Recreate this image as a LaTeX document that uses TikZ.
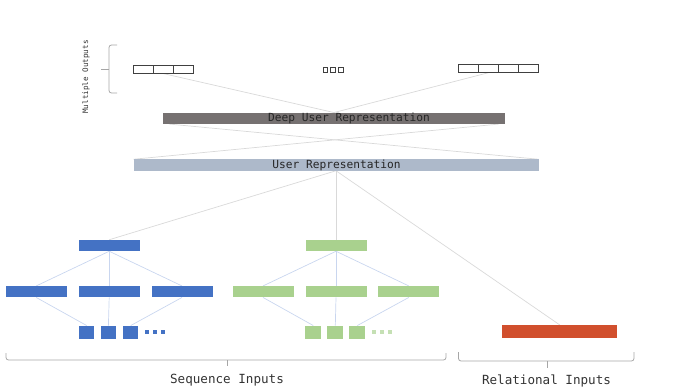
\documentclass[tikz,border=0pt]{standalone}
\usepackage{fontspec}
\newfontfamily\mono{DejaVu Sans Mono}
\usetikzlibrary{backgrounds}
\definecolor{cblue}{HTML}{4472C4}
\definecolor{cgreen}{HTML}{A9D18E}
\definecolor{cgreenl}{HTML}{C5E0B4}
\definecolor{cred}{HTML}{D14F2D}
\definecolor{cdeep}{HTML}{767171}
\definecolor{cuser}{HTML}{ADB9CA}
\definecolor{cline}{HTML}{D9D9D9}
\definecolor{ctree}{HTML}{C9D6EF}
\definecolor{cbrace}{HTML}{A6A6A6}
\definecolor{ccell}{HTML}{404040}
\tikzset{
  blk/.style={rectangle, inner sep=0pt, outer sep=0pt},
  cell/.style={blk, draw=ccell, line width=1pt, fill=white, minimum width=20pt, minimum height=8pt},
  mini/.style={blk, draw=ccell, line width=0.9pt, fill=white, minimum width=4.8pt, minimum height=4.8pt},
  bar/.style={blk, minimum height=11.5pt},
  bartext/.style={blk, font=\mono\fontsize{11.2}{12}\selectfont, text=black!85},
  bnode/.style={blk, fill=cblue, minimum width=61pt, minimum height=11.5pt},
  gnode/.style={blk, fill=cgreen, minimum width=61pt, minimum height=11.5pt},
  bsq/.style={blk, fill=cblue, minimum width=15.5pt, minimum height=13.5pt},
  gsq/.style={blk, fill=cgreen, minimum width=16pt, minimum height=13.5pt},
  bdot/.style={blk, fill=cblue, minimum width=3.2pt, minimum height=3.2pt},
  gdot/.style={blk, fill=cgreenl, minimum width=3.2pt, minimum height=3.2pt},
  conn/.style={draw=cline, line width=0.7pt},
  tree/.style={draw=ctree, line width=0.7pt},
  brace/.style={draw=cbrace, line width=0.8pt, rounded corners=2.5pt},
  lbl/.style={font=\mono\fontsize{12.6}{14}\selectfont, text=black!80}
}
\begin{document}
\begin{tikzpicture}[x=1pt,y=-1pt]
\useasboundingbox (0,0) rectangle (692,390);
% output blocks
\node[cell] (o1a) at (143,69.5) {};
\node[cell] (o1b) at (163,69.5) {};
\node[cell] (o1c) at (183,69.5) {};
\node[mini] (m1) at (325.5,70) {};
\node[mini] (m2) at (333.3,70) {};
\node[mini] (m3) at (341.1,70) {};
\node[cell] (o2a) at (468.5,68.7) {};
\node[cell] (o2b) at (488.5,68.7) {};
\node[cell] (o2c) at (508.5,68.7) {};
\node[cell] (o2d) at (528.5,68.7) {};
% bars
\node[bar, fill=cdeep, minimum width=342pt] (deep) at (334,118.3) {};
\node[bartext] (deeplbl) at (349,118.3) {Deep User Representation};
\node[bar, fill=cuser, minimum width=405pt] (user) at (336,165) {};
\node[bartext] (userlbl) at (336.5,165) {User Representation};
% blue tree
\node[bnode] (bt) at (109.2,245.5) {};
\node[bnode] (bm1) at (36.2,291.7) {};
\node[bnode] (bm2) at (109.2,291.7) {};
\node[bnode] (bm3) at (182,291.7) {};
\node[bsq] (bs1) at (86.7,332.3) {};
\node[bsq] (bs2) at (108.4,332.3) {};
\node[bsq] (bs3) at (130.7,332.3) {};
\node[bdot] (bd1) at (147,332) {};
\node[bdot] (bd2) at (155,332) {};
\node[bdot] (bd3) at (163,332) {};
% green tree
\node[gnode] (gt) at (336,245.5) {};
\node[gnode] (gm1) at (263,291.7) {};
\node[gnode] (gm2) at (336,291.7) {};
\node[gnode] (gm3) at (408.8,291.7) {};
\node[gsq] (gs1) at (313.3,332.3) {};
\node[gsq] (gs2) at (335.3,332.3) {};
\node[gsq] (gs3) at (357.3,332.3) {};
\node[gdot] (gd1) at (374,332) {};
\node[gdot] (gd2) at (382,332) {};
\node[gdot] (gd3) at (390,332) {};
% relational
\node[blk, fill=cred, minimum width=115pt, minimum height=13.3pt] (rel) at (559.8,331.6) {};
% connectors
\begin{pgfonlayer}{background}
\draw[conn] (o1b.south) -- (deep.north);
\draw[conn] (o2b.south) -- (deep.north);
\draw[conn] ([xshift=6pt]deep.south west) -- (user.north east);
\draw[conn] ([xshift=-6pt]deep.south east) -- (user.north west);
\draw[conn] (user.south) -- (bt.north);
\draw[conn] (user.south) -- (gt.north);
\draw[conn] (user.south) -- (rel.north);
\foreach \t/\a/\b/\c in {bt/bm1/bm2/bm3, gt/gm1/gm2/gm3}{
  \draw[tree] (\t.south) -- (\a.north);
  \draw[tree] (\t.south) -- (\b.north);
  \draw[tree] (\t.south) -- (\c.north);
}
\draw[tree] (bm1.south) -- (bs1.north);
\draw[tree] (bm2.south) -- (bs2.north);
\draw[tree] (bm3.south) -- (bs3.north);
\draw[tree] (gm1.south) -- (gs1.north);
\draw[tree] (gm2.south) -- (gs2.north);
\draw[tree] (gm3.south) -- (gs3.north);
\end{pgfonlayer}
% braces
\draw[brace] (117,45) -- (109,45) -- (109,93) -- (117,93);
\draw[draw=cbrace, line width=0.8pt] (109,69) -- (101,69);
\node[font=\mono\fontsize{7.6}{8}\selectfont, text=black!80, rotate=90] (mo) at (86,77) {Multiple Outputs};
\draw[brace] (6,353) -- (6,360) -- (446,360) -- (446,353);
\draw[draw=cbrace, line width=0.8pt] (227,360) -- (227,366);
\node[lbl] (seq) at (227,380.5) {Sequence Inputs};
\draw[brace] (458.5,352) -- (458.5,361) -- (634,361) -- (634,352);
\draw[draw=cbrace, line width=0.8pt] (547,361) -- (547,368);
\node[lbl] (reli) at (546.5,380.5) {Relational Inputs};
\end{tikzpicture}
\end{document}
